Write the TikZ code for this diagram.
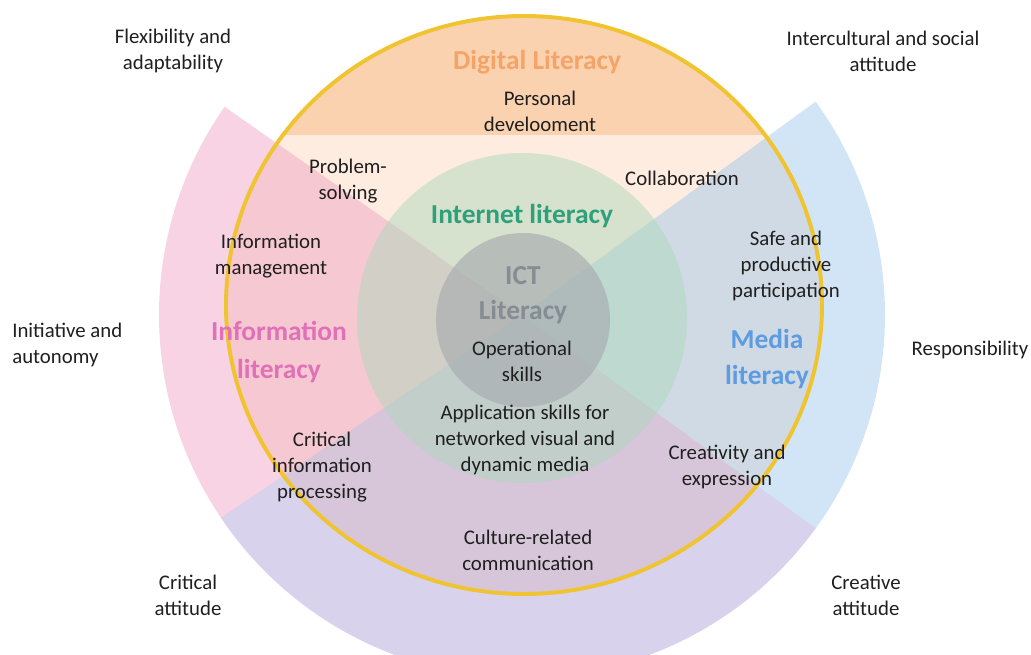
\documentclass[tikz,border=0pt]{standalone}
\usepackage{fontspec}
\setmainfont{Carlito}
\newcommand{\px}{0.025cm}
\newcommand{\R}{363}

\definecolor{digifill}{HTML}{FDECDF}
\definecolor{digitop}{HTML}{FAD2AF}
\definecolor{infofill}{HTML}{EFA1C5}
\definecolor{mediafill}{HTML}{9FC7EB}
\definecolor{culturefill}{HTML}{A493D3}
\definecolor{netfill}{HTML}{A8D8B8}
\definecolor{ictfill}{HTML}{A9ADB1}
\definecolor{ring}{HTML}{F0C330}
\definecolor{digitxt}{HTML}{F3A466}
\definecolor{nettxt}{HTML}{2FA07C}
\definecolor{icttxt}{HTML}{868C93}
\definecolor{infotxt}{HTML}{E070B8}
\definecolor{mediatxt}{HTML}{5E9CE2}

\begin{document}
\begin{tikzpicture}[x=\px, y=-\px,
    lbl/.style={align=center, inner sep=0pt, text=black!88, font=\fontsize{14.8}{18.4}\selectfont},
    ttl/.style={align=center, inner sep=0pt, font=\fontsize{19.5}{25}\selectfont\bfseries},
    sector/.style={fill opacity=0.47}]
    \useasboundingbox (0,0) rectangle (1031,655);

    % Digital literacy disc
    \fill[digifill] (524,305) ellipse[x radius=298, y radius=289];
    \begin{scope}
        \clip (524,305) ellipse[x radius=298, y radius=289];
        \fill[digitop] (200,0) rectangle (860,135);
    \end{scope}

    % Outer sectors
    \fill[sector, infofill] (522,315) -- +(146:\R) arc[start angle=146, end angle=215, radius=\R] -- cycle;
    \fill[sector, fill opacity=0.42, culturefill] (522,315) -- +(36:\R) arc[start angle=36, end angle=146, radius=\R] -- cycle;
    \fill[sector, mediafill] (522,315) -- +(-36:\R) arc[start angle=-36, end angle=36, radius=\R] -- cycle;

    % Inner circles
    \fill[netfill, fill opacity=0.45] (522,318) circle[radius=165];
    \fill[ictfill, fill opacity=0.68] (523,320) circle[radius=87];

    % Ring
    \draw[ring, line width=2.8pt] (524,305) ellipse[x radius=298, y radius=289];

    % Titles
    \node[ttl, text=digitxt] (digital) at (537,62) {Digital Literacy};
    \node[ttl, text=nettxt] (internet) at (522,216) {Internet literacy};
    \node[ttl, text=icttxt] (ict) at (523,295) {ICT\\Literacy};
    \node[ttl, text=infotxt] (information) at (279,352) {Information\\[2pt]literacy};
    \node[ttl, text=mediatxt] (media) at (767,359) {Media\\[1pt]literacy};

    % Skills inside the ring
    \node[lbl] (personal) at (540,111) {Personal\\develooment};
    \node[lbl] (problem) at (348,181) {Problem-\\solving};
    \node[lbl] (collab) at (682,178) {Collaboration};
    \node[lbl] (infoman) at (271,256) {Information\\management};
    \node[lbl] (safe) at (786,266) {Safe and\\productive\\participation};
    \node[lbl] (operational) at (522,361) {Operational\\skills};
    \node[lbl] (application) at (525,440) {Application skills for\\networked visual and\\dynamic media};
    \node[lbl] (critinfo) at (322,467) {Critical\\information\\processing};
    \node[lbl] (creativity) at (727,467) {Creativity and\\expression};
    \node[lbl] (culture) at (528,550) {Culture-related\\communication};

    % Attitudes outside the ring
    \node[lbl] (flexibility) at (173,51) {Flexibility and\\adaptability};
    \node[lbl] (intercultural) at (883,51) {Intercultural and social\\attitude};
    \node[lbl, anchor=west, align=left] (initiative) at (12,345) {Initiative and\\autonomy};
    \node[lbl] (responsibility) at (970,350) {Responsibility};
    \node[lbl] (critical) at (188,595) {Critical\\attitude};
    \node[lbl] (creative) at (866,595) {Creative\\attitude};
\end{tikzpicture}
\end{document}
